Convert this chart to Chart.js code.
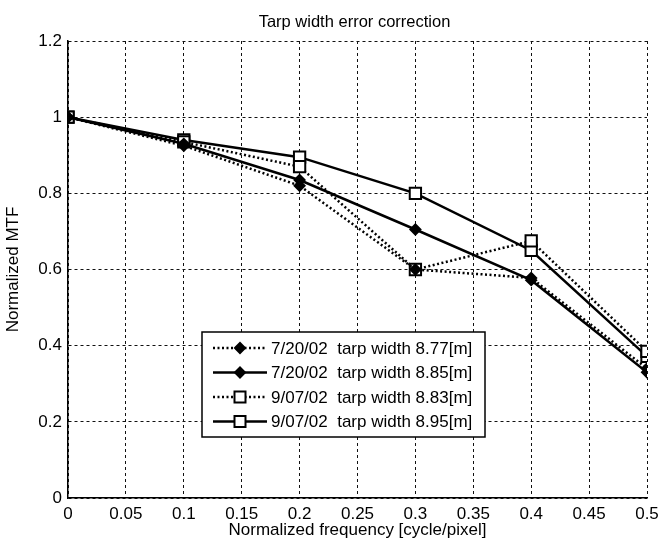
<!DOCTYPE html>
<html>
<head>
<meta charset="utf-8">
<script src="https://cdn.jsdelivr.net/npm/chart.js@4/dist/chart.umd.min.js"></script>
<style>
  html, body { margin: 0; padding: 0; background: #fff; }
  #wrap { width: 659px; height: 546px; }
</style>
</head>
<body>
<div id="wrap"><canvas id="c" width="659" height="546"></canvas></div>
<script>
// ---- data ----
const chartTitle = 'Tarp width error correction';
const xAxisTitle = 'Normalized frequency [cycle/pixel]';
const yAxisTitle = 'Normalized MTF';
const xValues = [0, 0.1, 0.2, 0.3, 0.4, 0.5];
const xTickLabels = ['0', '0.05', '0.1', '0.15', '0.2', '0.25', '0.3', '0.35', '0.4', '0.45', '0.5'];
const yTickLabels = ['0', '0.2', '0.4', '0.6', '0.8', '1', '1.2'];
const seriesLabels = [
  '7/20/02  tarp width 8.77[m]',
  '7/20/02  tarp width 8.85[m]',
  '9/07/02  tarp width 8.83[m]',
  '9/07/02  tarp width 8.95[m]'
];
const mtf877 = [1.0, 0.925, 0.82, 0.60, 0.578, 0.34];
const mtf885 = [1.0, 0.93, 0.835, 0.705, 0.572, 0.33];
const mtf883 = [1.0, 0.935, 0.87, 0.60, 0.675, 0.385];
const mtf895 = [1.0, 0.94, 0.895, 0.80, 0.65, 0.372];

// ---- styles ----
const FONT = "'Liberation Sans', Arial, Helvetica, sans-serif";
const styles = [
  { dash: [2, 2.5], marker: 'diamond' },
  { dash: [], marker: 'diamond' },
  { dash: [2, 2.5], marker: 'square' },
  { dash: [], marker: 'square' }
];
const seriesValues = [mtf877, mtf885, mtf883, mtf895];

function toPoints(vals) { return xValues.map((x, i) => ({ x: x, y: vals[i] })); }

const datasets = seriesValues.map((vals, i) => {
  const st = styles[i];
  const isSq = st.marker === 'square';
  return {
    label: seriesLabels[i],
    data: toPoints(vals),
    borderColor: '#000',
    borderWidth: 2.5,
    borderDash: st.dash,
    tension: 0,
    fill: false,
    pointStyle: isSq ? 'rect' : 'rectRot',
    pointRadius: isSq ? 8 : 5,
    pointBorderWidth: 2,
    pointBorderColor: '#000',
    pointBackgroundColor: isSq ? '#fff' : '#000',
    pointHoverRadius: isSq ? 8 : 5
  };
});

function drawMarker(ctx, kind, x, y) {
  ctx.save();
  ctx.setLineDash([]);
  ctx.lineWidth = 2;
  ctx.strokeStyle = '#000';
  if (kind === 'square') {
    const s = 5.5;
    ctx.fillStyle = '#fff';
    ctx.beginPath(); ctx.rect(x - s, y - s, 2 * s, 2 * s); ctx.fill(); ctx.stroke();
  } else {
    const r = 5;
    ctx.fillStyle = '#000';
    ctx.beginPath();
    ctx.moveTo(x - r, y); ctx.lineTo(x, y - r); ctx.lineTo(x + r, y); ctx.lineTo(x, y + r);
    ctx.closePath(); ctx.fill(); ctx.stroke();
  }
  ctx.restore();
}

const decorPlugin = {
  id: 'decor',
  afterDraw(chart) {
    const ctx = chart.ctx;
    const ca = chart.chartArea;
    // title
    ctx.save();
    ctx.fillStyle = '#000';
    ctx.font = '16.5px ' + FONT;
    ctx.textAlign = 'center';
    ctx.textBaseline = 'middle';
    ctx.fillText(chartTitle, (ca.left + ca.right) / 2 - 3, 22);
    ctx.restore();

    // legend box
    const bx = 202, by = 332, bw = 283, bh = 105;
    ctx.save();
    ctx.fillStyle = '#fff';
    ctx.fillRect(bx, by, bw, bh);
    ctx.strokeStyle = '#000';
    ctx.lineWidth = 1.5;
    ctx.strokeRect(bx, by, bw, bh);
    const rowY0 = 348, rowGap = 24.5;
    chart.data.datasets.forEach((ds, i) => {
      const y = rowY0 + i * rowGap;
      ctx.save();
      ctx.strokeStyle = '#000';
      ctx.lineWidth = 2.5;
      ctx.setLineDash(styles[i].dash);
      ctx.beginPath(); ctx.moveTo(213, y); ctx.lineTo(267, y); ctx.stroke();
      ctx.restore();
      drawMarker(ctx, styles[i].marker, 240, y);
      ctx.fillStyle = '#000';
      ctx.font = '17px ' + FONT;
      ctx.textAlign = 'left';
      ctx.textBaseline = 'middle';
      ctx.fillText(ds.label, 271, y + 1);
    });
    ctx.restore();
  }
};

const gridCfg = {
  color: '#111',
  lineWidth: 1,
  drawTicks: false
};

new Chart(document.getElementById('c'), {
  type: 'line',
  data: { datasets: datasets },
  options: {
    responsive: false,
    animation: false,
    events: [],
    layout: { padding: { left: 0, right: 12, top: 41, bottom: 4 } },
    plugins: {
      legend: { display: false },
      title: { display: false },
      tooltip: { enabled: false }
    },
    scales: {
      x: {
        type: 'linear',
        min: 0,
        max: 0.5,
        grid: gridCfg,
        border: { display: true, color: '#000', width: 1.5, dash: [3, 3] },
        ticks: {
          stepSize: 0.05,
          padding: 6,
          color: '#000',
          font: { family: FONT, size: 17 },
          maxRotation: 0,
          autoSkip: false,
          callback: (v, i) => xTickLabels[i]
        },
        title: {
          display: true,
          text: xAxisTitle,
          color: '#000',
          font: { family: FONT, size: 17 },
          padding: { top: 0, bottom: 1 }
        },
        afterFit: (s) => { s.height = 44; s.paddingLeft = 0; s.paddingRight = 0; }
      },
      y: {
        type: 'linear',
        min: 0,
        max: 1.2,
        grid: gridCfg,
        border: { display: true, color: '#000', width: 1.5, dash: [3, 3] },
        ticks: {
          stepSize: 0.2,
          padding: 6,
          color: '#000',
          font: { family: FONT, size: 17 },
          autoSkip: false,
          callback: (v, i) => yTickLabels[i]
        },
        title: {
          display: true,
          text: yAxisTitle,
          color: '#000',
          font: { family: FONT, size: 17 },
          padding: { top: 3, bottom: 0 }
        },
        afterFit: (s) => { s.width = 68; s.paddingTop = 0; s.paddingBottom = 0; }
      }
    }
  },
  plugins: [decorPlugin]
});
</script>
</body>
</html>
